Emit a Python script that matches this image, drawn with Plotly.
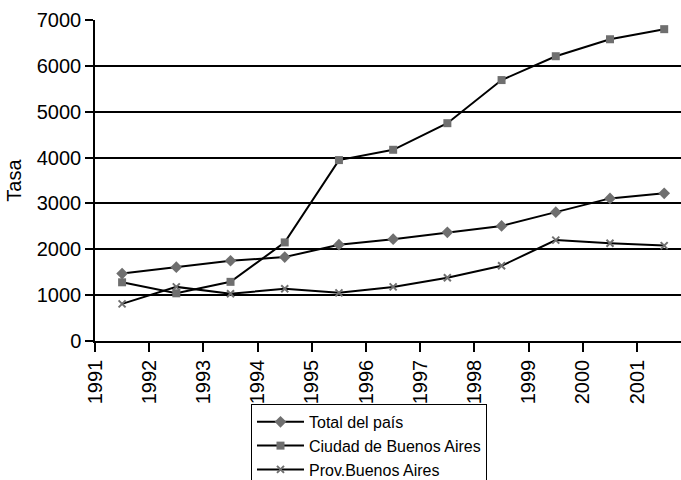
import plotly.graph_objects as go

years = [1991, 1992, 1993, 1994, 1995, 1996, 1997, 1998, 1999, 2000, 2001]
tick_labels = [str(y) for y in years]
point_x = [y + 0.5 for y in years]

total_pais = [1470, 1610, 1750, 1830, 2100, 2220, 2370, 2510, 2810, 3110, 3220]
ciudad_ba = [1280, 1040, 1290, 2150, 3945, 4170, 4750, 5690, 6210, 6580, 6800]
prov_ba = [810, 1180, 1030, 1140, 1050, 1180, 1380, 1640, 2200, 2130, 2080]

series = [
    ("Total del país", total_pais, "diamond"),
    ("Ciudad de Buenos Aires", ciudad_ba, "square"),
    ("Prov.Buenos Aires", prov_ba, "x-thin-open"),
]

FONT = "Liberation Sans, Arial, sans-serif"
MARK = "#6f6f6f"

fig = go.Figure()
for name, vals, sym in series:
    marker = dict(symbol=sym, size=9, color=MARK)
    if sym == "square":
        marker = dict(symbol=sym, size=8, color=MARK)
    if sym.startswith("x"):
        marker = dict(symbol=sym, size=7, color=MARK, line=dict(color=MARK, width=2))
    fig.add_trace(go.Scatter(
        x=point_x, y=vals, name=name, mode="lines+markers",
        line=dict(color="black", width=2), marker=marker,
    ))

fig.update_layout(
    width=681, height=480,
    margin=dict(l=95, r=0, t=20, b=139, autoexpand=False),
    paper_bgcolor="white", plot_bgcolor="white",
    font=dict(family=FONT, color="black", size=19),
    showlegend=True,
    legend=dict(
        x=0.2662, y=-0.196, xanchor="left", yanchor="top",
        bordercolor="black", borderwidth=1, bgcolor="white",
        font=dict(size=16, family=FONT, color="black"), itemwidth=47,
        tracegroupgap=0,
    ),
)
fig.update_xaxes(
    range=[1991, 2001.81], tickvals=years, ticktext=tick_labels,
    tickangle=-90, ticks="outside", ticklen=9, tickwidth=1.5, tickcolor="black",
    showline=True, linecolor="black", linewidth=1.5, showgrid=False,
    zeroline=False, tickfont=dict(size=20, family=FONT, color="black"),
    automargin=False,
)
fig.update_yaxes(
    range=[0, 7000], dtick=1000, tick0=0,
    ticks="outside", ticklen=8, tickwidth=1.5, tickcolor="black",
    showline=True, linecolor="black", linewidth=1.5,
    showgrid=True, gridcolor="black", gridwidth=1.5, zeroline=False,
    tickfont=dict(size=20, family=FONT, color="black"), automargin=False,
    title=dict(text="Tasa", font=dict(size=20, family=FONT, color="black"), standoff=10),
)

fig.write_html(
    "out.html",
    config={"displayModeBar": False},
    post_script="document.body.style.margin='0';document.body.style.overflow='hidden';",
)
